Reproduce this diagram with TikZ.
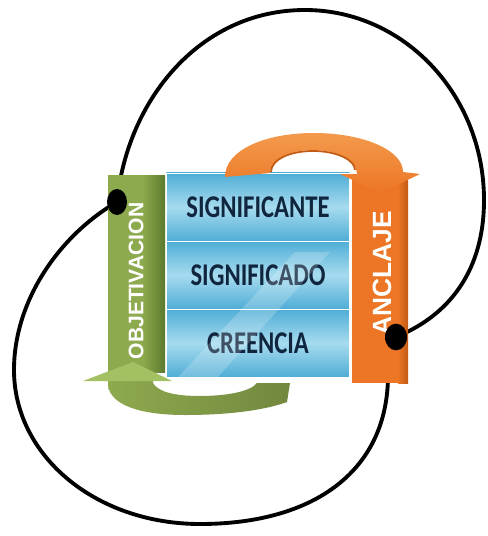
\documentclass[tikz,border=0pt]{standalone}
\usepackage{fontspec}
\usetikzlibrary{shapes.geometric}
\newfontfamily\boxfont[FakeStretch=0.78]{Carlito}
\newfontfamily\barfont{Liberation Sans}
\definecolor{rowtext}{HTML}{10263F}
\definecolor{blueedge}{HTML}{4FADD6}
\definecolor{bluemid}{HTML}{A6DBEF}
\definecolor{greenbar}{HTML}{8EAA4E}
\definecolor{greendark}{HTML}{5C7A2C}
\definecolor{greenhead}{HTML}{A3C163}
\definecolor{orangebar}{HTML}{EC7625}
\definecolor{orangedark}{HTML}{C25A14}
\definecolor{orangelight}{HTML}{F39A4C}
\begin{document}
\begin{tikzpicture}[x=0.03cm, y=-0.03cm,
    loopline/.style={line width=3.3pt, black},
    row/.style={draw=white, line width=0.8pt, top color=blueedge, bottom color=blueedge,
      middle color=bluemid, minimum width=5.49cm, minimum height=2.04cm,
      font=\boxfont\bfseries\fontsize{27}{29}\selectfont, text=rowtext},
    barlabel/.style={font=\barfont\bfseries\fontsize{18}{20}\selectfont, text=white, rotate=90},
    dot/.style={ellipse, fill=black, inner sep=0pt}]
  \useasboundingbox (0,0) rectangle (488,536);
  \coordinate (gdot) at (117,202);
  \coordinate (odot) at (396,337);

  \draw[loopline] (gdot) .. controls (127,100) and (200,10) .. (305,10)
    .. controls (404,10) and (484,95) .. (484,200)
    .. controls (484,270) and (450,315) .. (odot);
  \draw[loopline] (gdot) .. controls (60,235) and (14,300) .. (14,370)
    .. controls (14,456) and (96,524) .. (200,524)
    .. controls (315,524) and (388,470) .. (388,375) -- (odot);

  \node[row] (significante) at (258,207) {SIGNIFICANTE};
  \node[row] (significado) at (258,275) {SIGNIFICADO};
  \node[row] (creencia) at (258,343) {CREENCIA};
  \fill[white, opacity=0.2] (178,377) -- (218,377) -- (330,252) -- (295,252) -- cycle;

  \shade[left color=greenbar, right color=greenbar!80!black] (108,372) -- (108,385)
    .. controls (110,405) and (140,415) .. (185,415)
    .. controls (230,415) and (265,410) .. (287,402) -- (290,383) -- (257,383)
    .. controls (250,392) and (225,396) .. (200,396)
    .. controls (175,396) and (158,392) .. (153,383) -- (153,372) -- cycle;
  \fill[greenbar] (108,175) rectangle (165,372);
  \shade[left color=greenbar, right color=greendark] (142,175) rectangle (165,372);
  \node[barlabel] (objetivacion) at (136,281) {OBJETIVACION};
  \fill[greenhead] (83,381) -- (133,362) -- (172,381) -- cycle;

  \fill[orangebar] (352,175) rectangle (408,383);
  \shade[left color=orangebar, right color=orangedark] (398,175) rectangle (408,383);
  \shade[top color=orangelight, bottom color=orangebar] (225,177) .. controls (225,150) and (265,133) .. (314,133)
    .. controls (363,133) and (403,150) .. (403,172) -- (420,174) -- (380,193) -- (340,174) -- (357,174)
    .. controls (357,160) and (337,150) .. (313,150)
    .. controls (289,150) and (270,160) .. (270,173) -- cycle;
  \draw[orangedark, line width=1.5pt] (355,170) .. controls (355,160) and (337,151) .. (313,151)
    .. controls (289,151) and (271,160) .. (271,172);
  \node[barlabel, font=\barfont\bfseries\fontsize{22.5}{24}\selectfont] (anclaje) at (382,273) {ANCLAJE};

  \node[dot, minimum width=0.6cm, minimum height=0.78cm] at (gdot) {};
  \node[dot, minimum width=0.66cm, minimum height=0.8cm] at (odot) {};
\end{tikzpicture}
\end{document}
